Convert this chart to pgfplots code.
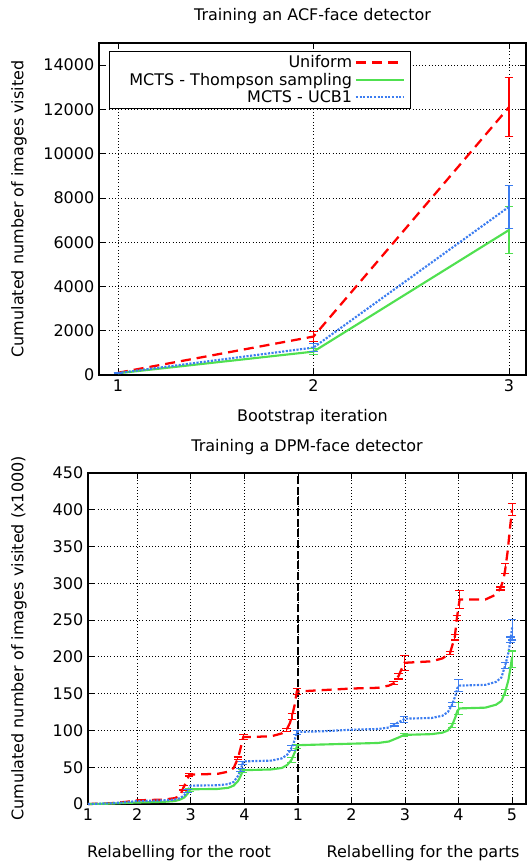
\documentclass[border=0pt]{standalone}
\usepackage{fontspec}
\setmainfont{DejaVu Sans}
\usepackage{pgfplots}
\pgfplotsset{compat=1.18}
\definecolor{cRed}{RGB}{255,0,0}
\definecolor{cGreen}{RGB}{80,224,80}
\definecolor{cBlue}{RGB}{60,125,240}
\pgfplotsset{
  every axis title shift=0pt,
  every axis/.append style={
    font=\fontsize{12}{14}\selectfont,
    /pgf/number format/assume math mode=true,
    /pgf/number format/1000 sep={},
    scale only axis,
    grid=major,
    major grid style={black, dotted, line width=0.6pt},
    axis line style={black, line width=0.8pt},
    tick style={black, line width=0.6pt},
    scaled ticks=false,
  },
  redline/.style={cRed, line width=1.7pt, dash pattern=on 7.5pt off 4.5pt},
  greenline/.style={cGreen, line width=1.6pt},
  blueline/.style={cBlue, line width=1.6pt, dash pattern=on 1.6pt off 1.1pt},
  eb/.style={draw=none, forget plot, error bars/.cd, y dir=both, y explicit,
    error bar style={draw=#1, solid, line width=0.85pt},
    error mark options={draw=#1, solid, rotate=90, mark size=3.2pt, line width=0.85pt}},
}
\begin{document}
\begin{tikzpicture}
\path[use as bounding box] (0,0) rectangle (394.5pt,-645.75pt);
% ---------------- top chart ----------------
\begin{axis}[
  at={(74.25pt,-281.25pt)}, anchor=south west,
  width=320.25pt, height=249pt,
  xmin=0.903, xmax=3.087, ymin=0, ymax=15000,
  xtick={1,2,3}, ytick={0,2000,4000,6000,8000,10000,12000,14000},
  title={Training an ACF-face detector},
  title style={at={(axis description cs:0.5,1.0813)}, anchor=center},
  xlabel={Bootstrap iteration},
  xlabel style={at={(axis description cs:0.5,-0.1265)}, anchor=center},
  ylabel={Cumulated number of images visited},
  ylabel style={at={(axis description cs:-0.1874,0.5)}, anchor=center},
  legend plot pos=right,
  legend cell align=right,
  legend style={at={(axis description cs:0.0234,0.976)}, anchor=north west,
    draw=black, line width=0.6pt, fill=white, row sep=-1.5pt, inner xsep=4pt, inner ysep=1pt},
  legend image code/.code={\draw[#1] (0pt,0pt) -- (36pt,0pt);},
]
\addplot[redline] table {
x y
1 100
2 1737
3 12100
};
\addlegendentry{Uniform}
\addplot[greenline] table {
x y
1 80
2 1057
3 6550
};
\addlegendentry{\hspace*{9pt}MCTS - Thompson sampling}
\addplot[blueline] table {
x y
1 90
2 1240
3 7600
};
\addlegendentry{MCTS - UCB1}
\addplot[eb=cRed] table[x=x,y=y,y error=e] {
x y e
1 100 30
2 1737 230
3 12100 1330
};
\addplot[eb=cGreen] table[x=x,y=y,y error=e] {
x y e
1 80 25
2 1057 130
3 6550 1060
};
\addplot[eb=cBlue] table[x=x,y=y,y error=e] {
x y e
1 90 30
2 1240 190
3 7600 970
};
\end{axis}
% ---------------- bottom chart ----------------
\begin{axis}[
  at={(66pt,-603pt)}, anchor=south west,
  width=328.5pt, height=248.25pt,
  xmin=0.08, xmax=8.26, ymin=0, ymax=450,
  xtick={0.08,1,2,3,4,5,6,7,8},
  xticklabels={1,2,3,4,1,2,3,4,5},
  ytick={0,50,100,150,200,250,300,350,400,450},
  axis line style={black, line width=1.2pt},
  title={Training a DPM-face detector},
  title style={at={(axis description cs:0.5,1.0785)}, anchor=center},
  ylabel={Cumulated number of images visited (x1000)},
  ylabel style={at={(axis description cs:-0.1575,0.5)}, anchor=center},
  clip=false,
]
\addplot[black, line width=2pt, dash pattern=on 6pt off 2pt] table {
x y
4 0
4 450
};
\addplot[redline] table {
x y
0.08 0
0.5 1
0.8 3
1.0 5
1.5 6
1.7 8
1.8 11
1.86 22
1.93 32
1.97 40
2.0 40
2.5 41
2.7 44
2.8 49
2.88 62
2.93 76
2.98 91
3.0 91
3.5 92
3.7 96
3.79 101
3.85 110
3.89 119
3.94 135
3.98 153
4.0 153
4.5 155
5.0 157
5.5 158
5.7 161
5.79 164
5.88 174
5.94 184
5.99 192
6.0 192
6.5 194
6.7 198
6.84 205
6.93 227
6.97 253
7.02 278
7.5 278
7.65 283
7.72 287
7.78 293
7.84 305
7.87 318
7.92 345
7.96 375
8.0 400
};
\addplot[greenline] table {
x y
0.08 0
0.5 0.5
0.8 1.5
1.0 2
1.5 3
1.7 4
1.8 6
1.88 9
1.94 14
1.98 19
2.0 20
2.5 20.5
2.7 22
2.8 25
2.88 31
2.93 38
2.97 45
3.0 46
3.5 47
3.7 49
3.8 53
3.88 60
3.94 70
3.98 78
4.0 80
4.5 81
5.0 82
5.5 83
5.7 85
5.8 88
5.9 91
5.98 94
6.0 94
6.5 95
6.7 97
6.8 100
6.88 107
6.94 118
6.98 127
7.02 130
7.5 131
7.7 135
7.8 140
7.87 152
7.93 168
7.97 185
8.0 200
};
\addplot[blueline] table {
x y
0.08 0
0.5 1
0.8 2.5
1.0 4
1.5 5
1.7 6
1.8 8
1.88 12
1.94 18
1.98 24
2.0 25
2.5 25.5
2.7 27
2.8 30
2.88 38
2.93 46
2.97 56
3.0 58
3.5 59
3.7 62
3.8 67
3.88 76
3.94 87
3.98 97
4.0 98
4.5 99
5.0 101
5.5 102
5.7 104
5.8 108
5.9 112
5.98 115
6.0 116
6.5 117
6.7 120
6.8 125
6.88 135
6.94 147
6.98 158
7.02 161
7.5 162
7.7 166
7.8 172
7.87 188
7.93 205
7.97 223
8.0 240
};
\addplot[eb=cRed] table[x=x,y=y,y error=e] {
x y e
1.86 22 3
1.97 40 2
2.88 62 2
2.98 91 3
3.79 101 2
3.89 119 4
3.98 153 4
5.79 164 2
5.88 174 4
5.99 192 10
6.84 205 2
6.93 227 4
6.97 253 3
7.02 278 12
7.78 293 2
7.87 320 7
8.0 400 8
};
\addplot[eb=cGreen] table[x=x,y=y,y error=e] {
x y e
1.98 19 2
2.97 45 2
3.88 60 3
3.98 78 3
5.98 94 2
6.88 107 3
7.0 130 8
7.87 152 4
8.0 197 11
};
\addplot[eb=cBlue] table[x=x,y=y,y error=e] {
x y e
1.94 18 2
2.93 46 2
2.97 56 2
3.88 76 3
3.98 97 3
5.8 108 2
5.98 115 4
6.88 135 3
7.0 161 8
7.87 188 4
7.97 223 4
8.0 237 14
};
\node[anchor=center] at (axis description cs:0.208,-0.148) {Relabelling for the root};
\node[anchor=center] at (axis description cs:0.765,-0.148) {Relabelling for the parts};
\end{axis}
\end{tikzpicture}
\end{document}
